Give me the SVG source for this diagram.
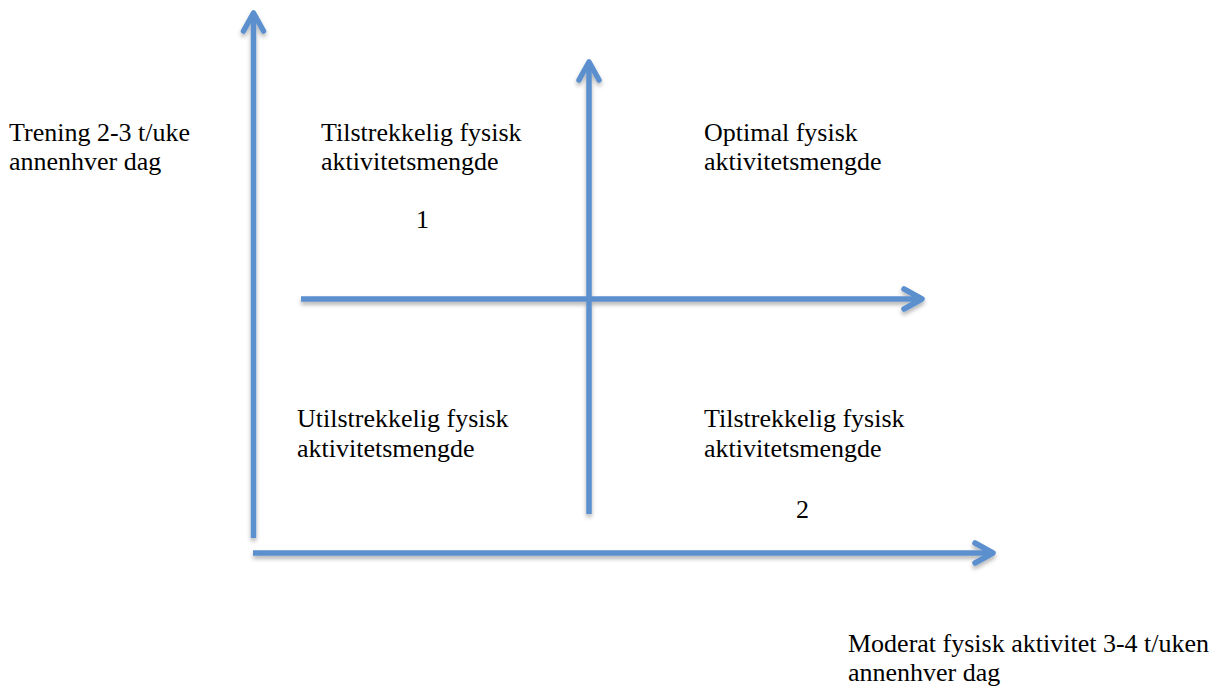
<svg xmlns="http://www.w3.org/2000/svg" width="1227" height="693" viewBox="0 0 1227 693">
  <style>
    .ax { fill: none; stroke: #5b8fcd; stroke-width: 5.5; stroke-linejoin: round; }
    .shaft { stroke-linecap: butt; }
    .head { stroke-linecap: round; }
    text { font-family: "Liberation Serif", "Times New Roman", serif; font-size: 26px; fill: #000; }
  </style>
  <defs>
    <filter id="sh" x="-20%" y="-20%" width="140%" height="140%">
      <feDropShadow dx="0" dy="3" stdDeviation="2" flood-color="#000" flood-opacity="0.3"/>
    </filter>
  </defs>
  <rect width="1227" height="693" fill="#fff"/>
  <g id="connectors" filter="url(#sh)">
    <g id="y-axis">
      <path class="ax shaft" d="M253.5,538 L253.5,15"/>
      <path class="ax head" d="M243.5,31 L253.5,13 L263.5,31"/>
    </g>
    <g id="x-axis">
      <path class="ax shaft" d="M253,553 L991,553"/>
      <path class="ax head" d="M975,543 L993,553 L975,563"/>
    </g>
    <g id="mid-vertical">
      <path class="ax shaft" d="M589,514 L589,64"/>
      <path class="ax head" d="M579,80 L589,62 L599,80"/>
    </g>
    <g id="mid-horizontal">
      <path class="ax shaft" d="M301,299 L920,299"/>
      <path class="ax head" d="M904,289 L922,299 L904,309"/>
    </g>
  </g>
  <g id="label-y-axis">
    <text x="9" y="141">Trening 2-3 t/uke</text>
    <text x="9" y="170">annenhver dag</text>
  </g>
  <g id="quadrant-1">
    <text x="321" y="141">Tilstrekkelig fysisk</text>
    <text x="321" y="170">aktivitetsmengde</text>
    <text x="416" y="228">1</text>
  </g>
  <g id="quadrant-optimal">
    <text x="704" y="141">Optimal fysisk</text>
    <text x="704" y="170">aktivitetsmengde</text>
  </g>
  <g id="quadrant-insufficient">
    <text x="297" y="427">Utilstrekkelig fysisk</text>
    <text x="297" y="457">aktivitetsmengde</text>
  </g>
  <g id="quadrant-2">
    <text x="704" y="427">Tilstrekkelig fysisk</text>
    <text x="704" y="457">aktivitetsmengde</text>
    <text x="796" y="518">2</text>
  </g>
  <g id="label-x-axis">
    <text x="848" y="652">Moderat fysisk aktivitet 3-4 t/uken</text>
    <text x="848" y="681">annenhver dag</text>
  </g>
</svg>
